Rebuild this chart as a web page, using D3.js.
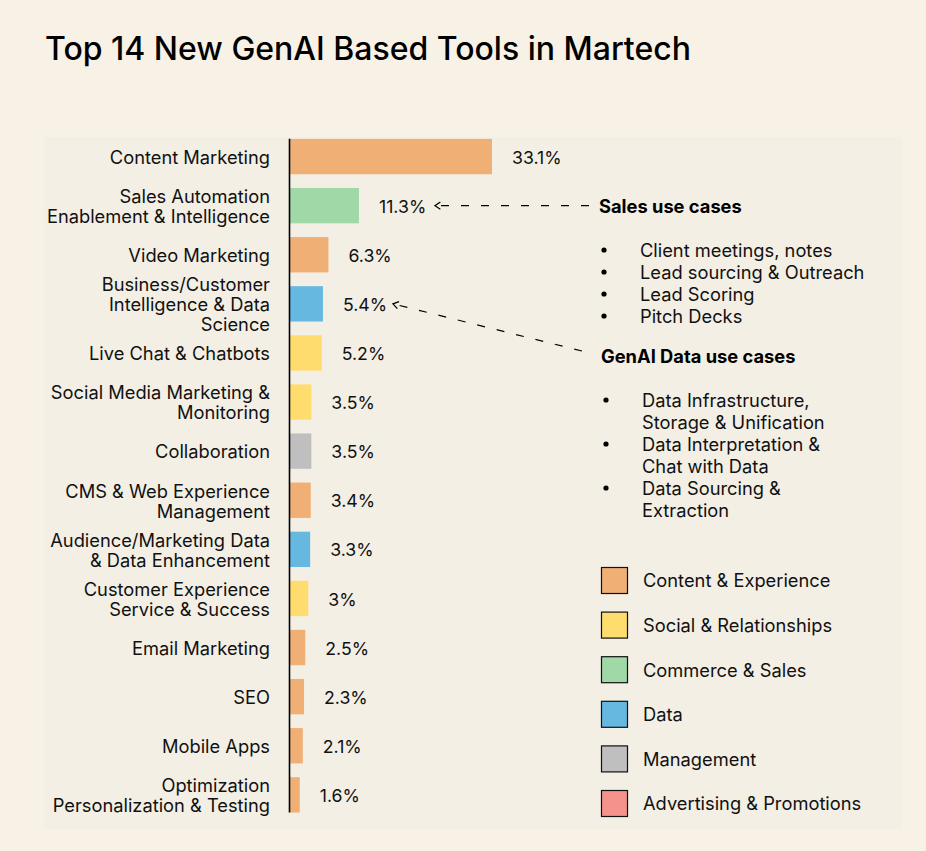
<!DOCTYPE html>
<html>
<head>
<meta charset="utf-8">
<script src="https://cdn.jsdelivr.net/npm/d3@7"></script>
<style>
  body { margin: 0; background: #f8f1e6; }
  svg { display: block; font-family: Inter, "Noto Sans", sans-serif; }
</style>
</head>
<body>
<div id="chart"></div>
<script>
// chart data
var categories = [
  "Content Marketing",
  "Sales Automation\nEnablement & Intelligence",
  "Video Marketing",
  "Business/Customer\nIntelligence & Data\nScience",
  "Live Chat & Chatbots",
  "Social Media Marketing &\nMonitoring",
  "Collaboration",
  "CMS & Web Experience\nManagement",
  "Audience/Marketing Data\n& Data Enhancement",
  "Customer Experience\nService & Success",
  "Email Marketing",
  "SEO",
  "Mobile Apps",
  "Optimization\nPersonalization & Testing"
];
var values = [33.1, 11.3, 6.3, 5.4, 5.2, 3.5, 3.5, 3.4, 3.3, 3, 2.5, 2.3, 2.1, 1.6];
var groups = ["Content & Experience", "Commerce & Sales", "Content & Experience", "Data",
  "Social & Relationships", "Social & Relationships", "Management", "Content & Experience",
  "Data", "Social & Relationships", "Content & Experience", "Content & Experience",
  "Content & Experience", "Content & Experience"];

var legendNames = ["Content & Experience", "Social & Relationships", "Commerce & Sales",
  "Data", "Management", "Advertising & Promotions"];
var legendColors = ["#f0b075", "#ffdc6e", "#a0d8a8", "#66b8e0", "#bfbfbf", "#f4928c"];

var salesCases = ["Client meetings, notes", "Lead sourcing & Outreach", "Lead Scoring", "Pitch Decks"];
var dataCases = ["Data Infrastructure,\nStorage & Unification", "Data Interpretation &\nChat with Data", "Data Sourcing &\nExtraction"];

var width = 926, height = 851;
var fs = 18.3;

var svg = d3.select("#chart").append("svg")
    .attr("width", width)
    .attr("height", height);

svg.append("rect")
    .attr("width", width).attr("height", height)
    .attr("fill", "#f8f1e6");

// panel
svg.append("rect")
    .attr("x", 44).attr("y", 137)
    .attr("width", 858).attr("height", 692)
    .attr("fill", "#f3efe5");

svg.append("text")
    .attr("x", 45).attr("y", 60)
    .attr("font-size", 32)
    .attr("font-weight", 500)
    .attr("fill", "#000")
    .text("Top 14 New GenAI Based Tools in Martech");

var color = d3.scaleOrdinal().domain(legendNames).range(legendColors);

var x = d3.scaleLinear().domain([0, 33.1]).range([290, 492]);
var y = d3.scaleBand()
    .domain(d3.range(categories.length))
    .range([132, 819.4])
    .paddingInner(0.28)
    .paddingOuter(0.14);

var rows = categories.map(function (c, i) {
  return { name: c, value: values[i], group: groups[i], i: i };
});

svg.append("g").selectAll("rect")
  .data(rows)
  .enter().append("rect")
    .attr("x", x(0))
    .attr("y", d => y(d.i))
    .attr("width", d => x(d.value) - x(0))
    .attr("height", y.bandwidth())
    .attr("fill", d => color(d.group));

// axis line
svg.append("line")
    .attr("x1", x(0) - 0.5).attr("x2", x(0) - 0.5)
    .attr("y1", y(0)).attr("y2", y(categories.length - 1) + y.bandwidth())
    .attr("stroke", "#000")
    .attr("stroke-width", 1.6);

// category labels
var lineH = 20;
svg.append("g").selectAll("text")
  .data(rows)
  .enter().append("text")
    .attr("text-anchor", "end")
    .attr("font-size", fs)
    .attr("fill", "#111")
    .each(function (d) {
      var lines = d.name.split("\n");
      var cy = y(d.i) + y.bandwidth() / 2 - (lines.length - 1) * lineH / 2;
      d3.select(this).selectAll("tspan")
        .data(lines)
        .enter().append("tspan")
          .attr("x", 270)
          .attr("y", (l, k) => cy + k * lineH)
          .attr("dy", "0.4em")
          .text(l => l);
    });

// value labels
svg.append("g").selectAll("text")
  .data(rows)
  .enter().append("text")
    .attr("x", d => x(d.value) + 20)
    .attr("y", d => y(d.i) + y.bandwidth() / 2)
    .attr("dy", "0.4em")
    .attr("font-size", 17.7)
    .attr("fill", "#111")
    .text(d => d.value + "%");

// arrows
var defs = svg.append("defs");
defs.append("marker")
    .attr("id", "head")
    .attr("viewBox", "0 0 10 10")
    .attr("refX", 9).attr("refY", 5)
    .attr("markerWidth", 9).attr("markerHeight", 9)
    .attr("markerUnits", "userSpaceOnUse")
    .attr("orient", "auto")
  .append("path")
    .attr("d", "M3,1 L9,5 L3,9")
    .attr("fill", "none")
    .attr("stroke", "#000")
    .attr("stroke-width", 1.4);

function arrow(i, tipOffset, x2, y2) {
  var cy = y(i) + y.bandwidth() / 2;
  svg.append("line")
      .attr("x1", x2).attr("y1", y2)
      .attr("x2", x(values[i]) + tipOffset).attr("y2", cy)
      .attr("stroke", "#000")
      .attr("stroke-width", 1.2)
      .attr("stroke-dasharray", "8,12")
      .attr("marker-end", "url(#head)");
}
arrow(1, 76, 589, y(1) + y.bandwidth() / 2);
arrow(3, 70, 582, 351);

// annotation blocks
function block(title, tx, ty, items, bx, textX, firstY) {
  svg.append("text")
      .attr("x", tx).attr("y", ty).attr("dy", "0.4em")
      .attr("font-size", fs).attr("font-weight", 700)
      .attr("fill", "#000")
      .text(title);
  var k = 0;
  items.forEach(function (it) {
    var lines = it.split("\n");
    var yy = firstY + k * 22;
    svg.append("circle")
        .attr("cx", bx).attr("cy", yy)
        .attr("r", 2.6).attr("fill", "#000");
    lines.forEach(function (l, j) {
      svg.append("text")
          .attr("x", textX).attr("y", yy + j * 22).attr("dy", "0.4em")
          .attr("font-size", fs).attr("fill", "#111")
          .text(l);
    });
    k += lines.length;
  });
}
block("Sales use cases", 599, 206, salesCases, 604, 640, 250);
block("GenAI Data use cases", 601, 356, dataCases, 606, 642, 400);

// legend
var ly = d3.scaleLinear().domain([0, legendNames.length - 1]).range([580, 803]);
var leg = svg.append("g").selectAll("g")
  .data(legendNames)
  .enter().append("g")
    .attr("transform", (d, i) => "translate(601," + ly(i) + ")");
leg.append("rect")
    .attr("x", 0.5).attr("y", -12.5)
    .attr("width", 26).attr("height", 26)
    .attr("fill", d => color(d))
    .attr("stroke", "#111")
    .attr("stroke-width", 1.2);
leg.append("text")
    .attr("x", 42).attr("dy", "0.4em")
    .attr("font-size", fs).attr("fill", "#111")
    .text(d => d);
</script>
</body>
</html>
